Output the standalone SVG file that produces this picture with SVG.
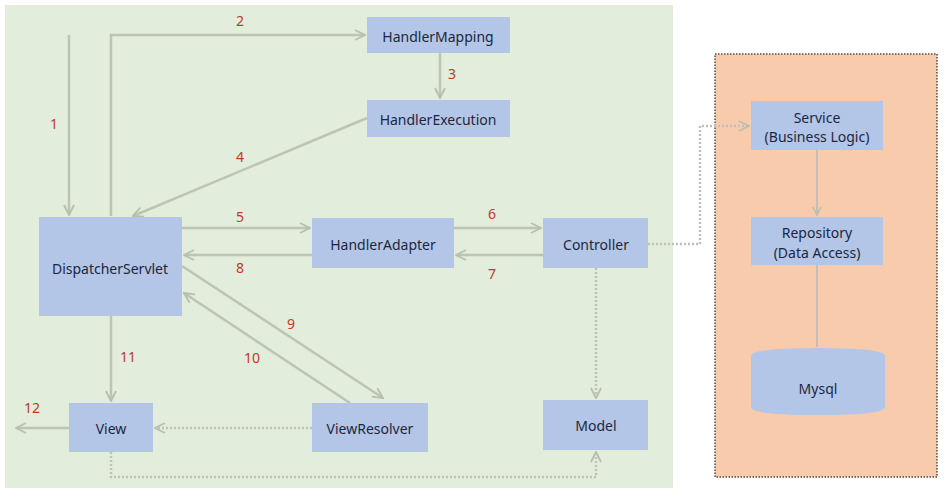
<svg xmlns="http://www.w3.org/2000/svg" width="944" height="493" viewBox="0 0 944 493">
<style>
.node{fill:#b4c6e7;}
.t{font-family:"Microsoft YaHei","Noto Sans","Liberation Sans",sans-serif;font-size:14px;fill:#1c2640;text-anchor:middle;dominant-baseline:central;}
.n{font-family:"Noto Sans","Liberation Sans",sans-serif;font-size:14px;fill:#c0392b;text-anchor:middle;dominant-baseline:central;}
.c{fill:none;stroke:#bcc4b4;stroke-width:2.5;}
.d{fill:none;stroke:#bcc2b8;stroke-width:2.5;stroke-dasharray:2 2;}
.s{fill:none;stroke:#c8bcb4;stroke-width:2;}
</style>
<defs>
<marker id="a" viewBox="0 0 10 10" refX="9" refY="5" markerWidth="5" markerHeight="5" orient="auto" markerUnits="strokeWidth">
<path d="M1,1 L9,5 L1,9" fill="none" stroke="#b8bfae" stroke-width="1.5"/>
</marker>
</defs>
<rect width="944" height="493" fill="#ffffff"/>
<rect x="5" y="5" width="668" height="483" fill="#e3eddb"/>
<rect x="715" y="54" width="222" height="423" fill="#f8cbad" stroke="#5a4a40" stroke-width="1.5" stroke-dasharray="1.5 1.5"/>
<g id="connectors">
<path class="c" d="M69,35 V215" marker-end="url(#a)"/>
<path class="c" d="M111,216 V35 H365" marker-end="url(#a)"/>
<path class="c" d="M440,53 V98" marker-end="url(#a)"/>
<path class="c" d="M367,118 L133,216" marker-end="url(#a)"/>
<path class="c" d="M182,228 H310" marker-end="url(#a)"/>
<path class="c" d="M454,228 H541" marker-end="url(#a)"/>
<path class="c" d="M543,255 H456" marker-end="url(#a)"/>
<path class="c" d="M312,255 H184" marker-end="url(#a)"/>
<path class="c" d="M182,266 L383,398" marker-end="url(#a)"/>
<path class="c" d="M350,403 L184,293" marker-end="url(#a)"/>
<path class="c" d="M111,316 V401" marker-end="url(#a)"/>
<path class="c" d="M69,428 H16" marker-end="url(#a)"/>
<path class="d" d="M312,428 H155" marker-end="url(#a)"/>
<path class="d" d="M596,268 V398" marker-end="url(#a)"/>
<path class="d" d="M111,452 V477 H596 V452" marker-end="url(#a)"/>
<path class="d" d="M648,244 H700 V126 H749" marker-end="url(#a)"/>
<path class="s" d="M817,150 V215" marker-end="url(#a)"/>
<path class="s" d="M817,265 V347"/>
</g>
<g id="labels">
<text class="n" x="54" y="123">1</text>
<text class="n" x="240" y="20">2</text>
<text class="n" x="452" y="73">3</text>
<text class="n" x="240" y="156">4</text>
<text class="n" x="240" y="216">5</text>
<text class="n" x="492" y="213">6</text>
<text class="n" x="492" y="273">7</text>
<text class="n" x="240" y="267">8</text>
<text class="n" x="291" y="323">9</text>
<text class="n" x="252" y="357">10</text>
<text class="n" x="128" y="356">11</text>
<text class="n" x="32" y="407">12</text>
</g>
<g id="HandlerMapping"><rect class="node" x="367" y="17" width="143" height="36"/><text class="t" x="438" y="36">HandlerMapping</text></g>
<g id="HandlerExecution"><rect class="node" x="367" y="100" width="143" height="37"/><text class="t" x="438" y="119">HandlerExecution</text></g>
<g id="DispatcherServlet"><rect class="node" x="39" y="217" width="143" height="99"/><text class="t" x="110" y="268">DispatcherServlet</text></g>
<g id="HandlerAdapter"><rect class="node" x="312" y="218" width="142" height="50"/><text class="t" x="383" y="244">HandlerAdapter</text></g>
<g id="Controller"><rect class="node" x="543" y="218" width="105" height="50"/><text class="t" x="596" y="244">Controller</text></g>
<g id="View"><rect class="node" x="69" y="403" width="84" height="49"/><text class="t" x="111" y="428">View</text></g>
<g id="ViewResolver"><rect class="node" x="312" y="403" width="116" height="49"/><text class="t" x="370" y="428">ViewResolver</text></g>
<g id="Model"><rect class="node" x="543" y="400" width="105" height="50"/><text class="t" x="596" y="425">Model</text></g>
<g id="Service"><rect class="node" x="751" y="101" width="132" height="49"/><text class="t" x="817" y="117">Service</text><text class="t" x="817" y="136">(Business Logic)</text></g>
<g id="Repository"><rect class="node" x="751" y="217" width="132" height="48"/><text class="t" x="817" y="232">Repository</text><text class="t" x="817" y="252">(Data Access)</text></g>
<g id="Mysql"><path class="node" d="M751,356 Q751,348 818,348 Q885,348 885,356 V407 Q885,415 818,415 Q751,415 751,407 Z"/><text class="t" x="818" y="388">Mysql</text></g>
</svg>
